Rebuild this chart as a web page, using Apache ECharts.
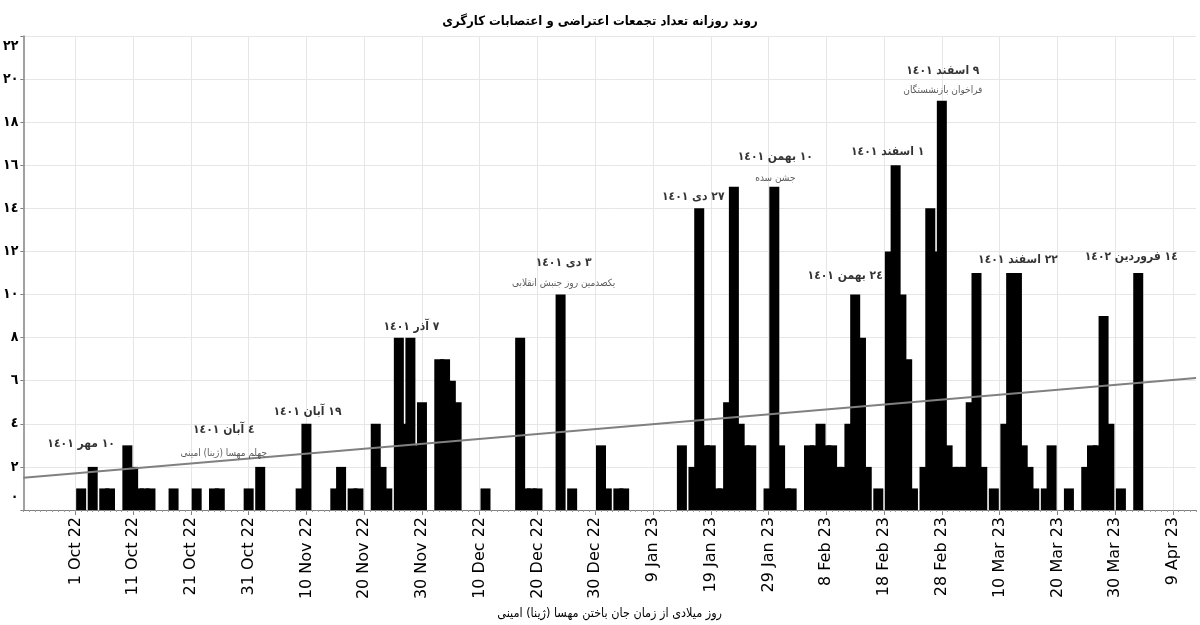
<!DOCTYPE html>
<html><head><meta charset="utf-8">
<script src="https://cdn.jsdelivr.net/npm/echarts@6/dist/echarts.min.js"></script>
<style>html,body{margin:0;padding:0;background:#fff}#c{width:1200px;height:625px}</style>
</head><body><div id="c"></div>
<script>
// ---------- data ----------
const startDate = [2022, 8, 22];   // 22 Sep 2022 (month is 0-based)
const dayCount = 204;              // through 13 Apr 2023

const tickLabels = ['1 Oct 22','11 Oct 22','21 Oct 22','31 Oct 22','10 Nov 22','20 Nov 22','30 Nov 22',
  '10 Dec 22','20 Dec 22','30 Dec 22','9 Jan 23','19 Jan 23','29 Jan 23','8 Feb 23','18 Feb 23',
  '28 Feb 23','10 Mar 23','20 Mar 23','30 Mar 23','9 Apr 23'];

const yTickLabels = ['٠','٢','٤','٦','٨','١٠','١٢','١٤','١٦','١٨','٢٠','٢٢'];

const protestDates = [
'2022-10-02','2022-10-04','2022-10-06','2022-10-07','2022-10-10','2022-10-11','2022-10-12','2022-10-13','2022-10-14','2022-10-18','2022-10-22','2022-10-25','2022-10-26','2022-10-31',
'2022-11-02','2022-11-09','2022-11-10','2022-11-15','2022-11-16','2022-11-18','2022-11-19','2022-11-22','2022-11-23','2022-11-24','2022-11-26','2022-11-27','2022-11-28','2022-11-29','2022-11-30',
'2022-12-03','2022-12-04','2022-12-05','2022-12-06','2022-12-11','2022-12-17','2022-12-18','2022-12-19','2022-12-20','2022-12-24','2022-12-26','2022-12-31',
'2023-01-01','2023-01-03','2023-01-04','2023-01-14','2023-01-16','2023-01-17','2023-01-18','2023-01-19','2023-01-20','2023-01-21','2023-01-22','2023-01-23','2023-01-24','2023-01-25','2023-01-26','2023-01-29','2023-01-30','2023-01-31',
'2023-02-01','2023-02-02','2023-02-05','2023-02-06','2023-02-07','2023-02-08','2023-02-09','2023-02-10','2023-02-11','2023-02-12','2023-02-13','2023-02-14','2023-02-15','2023-02-17','2023-02-19','2023-02-20','2023-02-21','2023-02-22','2023-02-23','2023-02-25','2023-02-26','2023-02-27','2023-02-28',
'2023-03-01','2023-03-02','2023-03-03','2023-03-04','2023-03-05','2023-03-06','2023-03-07','2023-03-09','2023-03-11','2023-03-12','2023-03-13','2023-03-14','2023-03-15','2023-03-16','2023-03-18','2023-03-19','2023-03-22','2023-03-25','2023-03-26','2023-03-27','2023-03-28','2023-03-29','2023-03-31',
'2023-04-03'];
const protestCounts = [
1,2,1,1,3,2,1,1,1,1,1,1,1,1,
2,1,4,1,2,1,1,4,2,1,8,4,8,3,5,
7,7,6,5,1,8,1,1,1,10,1,3,
1,1,1,3,2,14,3,3,1,1,5,15,4,3,3,1,15,3,
1,1,3,3,4,3,3,2,2,4,10,8,2,1,12,16,10,7,1,2,14,12,19,
3,2,2,2,5,11,2,1,4,11,11,3,2,1,1,3,1,2,3,3,9,4,1,
11];

const trendStart = 1.5;   // trend line value at first day
const trendEnd = 6.13;    // trend line value at last day

const annDates  = ['2022-10-02','2022-10-26','2022-11-10','2022-11-28','2022-12-24','2023-01-17','2023-01-30','2023-02-13','2023-02-20','2023-02-28','2023-03-13','2023-04-03'];
const annTitles = ['١٠ مهر ١٤٠١','٤ آبان ١٤٠١','١٩ آبان ١٤٠١','٧ آذر ١٤٠١','٣ دی ١٤٠١','٢٧ دی ١٤٠١','١٠ بهمن ١٤٠١','٢٤ بهمن ١٤٠١','١ اسفند ١٤٠١','٩ اسفند ١٤٠١','٢٢ اسفند ١٤٠١','١٤ فروردین ١٤٠٢'];
const annTitleY = [3.05,3.72,4.57,8.5,11.48,14.52,16.38,10.88,16.62,20.37,11.59,11.76];
const annSubs   = ['','چهلم مهسا (ژینا) امینی','','','یکصدمین روز جنبش انقلابی','','جشن سده','','','فراخوان بازنشستگان','',''];
const annSubY   = [0,2.64,0,0,10.51,0,15.4,0,0,19.49,0,0];
const annShift  = [0,4,1,1,3,-6,1,-10,-8,1,1,-7];   // horizontal nudge of each note, px

const titleText = 'روند روزانه تعداد تجمعات اعتراضی و اعتصابات کارگری';
const xAxisTitle = 'روز میلادی از زمان جان باختن مهسا (ژینا) امینی';

// ---------- build ----------
const MON = ['Jan','Feb','Mar','Apr','May','Jun','Jul','Aug','Sep','Oct','Nov','Dec'];
const cats = [], catLabel = {};
for (let i = 0; i < dayCount; i++) {
  const d = new Date(Date.UTC(startDate[0], startDate[1], startDate[2] + i));
  const key = d.toISOString().slice(0, 10);
  cats.push(key);
  catLabel[key] = d.getUTCDate() + ' ' + MON[d.getUTCMonth()] + ' ' + String(d.getUTCFullYear()).slice(2);
}
const isTick = cats.map(k => tickLabels.indexOf(catLabel[k]) >= 0);
const countMap = {};
protestDates.forEach((k, j) => countMap[k] = protestCounts[j]);
const barData = cats.map(k => countMap[k] || 0);

const AR = '"DejaVu Sans Condensed", "DejaVu Sans", sans-serif';
const annData = [];
annDates.forEach((k, j) => {
  annData.push({value: [k, annTitleY[j]], label: {formatter: annTitles[j], fontSize: 12, fontWeight: 'bold', offset: [annShift[j], 0]}});
  if (annSubs[j]) annData.push({value: [k, annSubY[j]], label: {formatter: annSubs[j], fontSize: 10, fontWeight: 'normal', color: '#333', offset: [annShift[j], 0]}});
});

const chart = echarts.init(document.getElementById('c'), null, {renderer: 'canvas'});
chart.setOption({
  animation: false,
  backgroundColor: '#fff',
  title: {text: titleText, left: 'center', top: 10,
    textStyle: {fontFamily: AR, fontSize: 13, fontWeight: 'bold', color: '#000'}},
  grid: {left: 22, right: 4, top: 36, bottom: 113},
  xAxis: [{
    type: 'category', data: cats, boundaryGap: false,
    axisLine: {lineStyle: {color: '#808080', width: 1}},
    axisTick: {show: true, interval: (i) => isTick[i], length: 5, lineStyle: {color: '#808080'}},
    axisLabel: {interval: (i) => isTick[i], rotate: 90, formatter: (v) => catLabel[v],
      fontFamily: 'DejaVu Sans', fontSize: 16, color: '#000', margin: 7},
    splitLine: {show: true, interval: (i) => isTick[i], lineStyle: {color: '#e6e6e6', width: 1}},
    name: xAxisTitle, nameLocation: 'middle', nameGap: 95,
    nameTextStyle: {fontFamily: AR, fontSize: 12.5, color: '#000'}
  }, {
    type: 'category', data: cats, boundaryGap: false, position: 'bottom',
    axisLine: {show: false},
    axisTick: {show: true, interval: 0, length: 2, lineStyle: {color: '#999'}},
    axisLabel: {show: false}, splitLine: {show: false}
  }],
  yAxis: {
    type: 'value', min: 0, max: 22, interval: 2,
    axisLine: {show: true, lineStyle: {color: '#808080', width: 1.5}},
    axisTick: {show: true, length: 3, lineStyle: {color: '#808080'}},
    splitLine: {lineStyle: {color: '#e6e6e6', width: 1}},
    axisLabel: {
      margin: 5, fontFamily: AR, fontSize: 14, fontWeight: 'bold', color: '#000',
      formatter: (v) => {
        const t = yTickLabels[Math.round(v / 2)];
        if (v === 0) return '{lo|' + t + '}';
        if (v === 22) return '{hi|' + t + '}';
        return t;
      },
      rich: {
        lo: {fontFamily: AR, fontSize: 14, fontWeight: 'bold', color: '#000', padding: [0, 0, 26, 0]},
        hi: {fontFamily: AR, fontSize: 14, fontWeight: 'bold', color: '#000', padding: [20, 0, 0, 0]}
      }
    }
  },
  series: [{
    type: 'bar', data: barData, barWidth: 10, xAxisIndex: 0,
    itemStyle: {color: '#000'}, silent: true, z: 2
  }, {
    type: 'line', xAxisIndex: 0, data: [[cats[0], trendStart], [cats[dayCount - 1], trendEnd]],
    showSymbol: false, symbol: 'none', lineStyle: {color: '#808080', width: 2}, silent: true, z: 3
  }, {
    type: 'scatter', xAxisIndex: 0, data: annData, symbolSize: 0, silent: true, z: 4,
    label: {show: true, position: 'inside', fontFamily: AR, color: '#000'}
  }]
});
</script>
</body></html>
